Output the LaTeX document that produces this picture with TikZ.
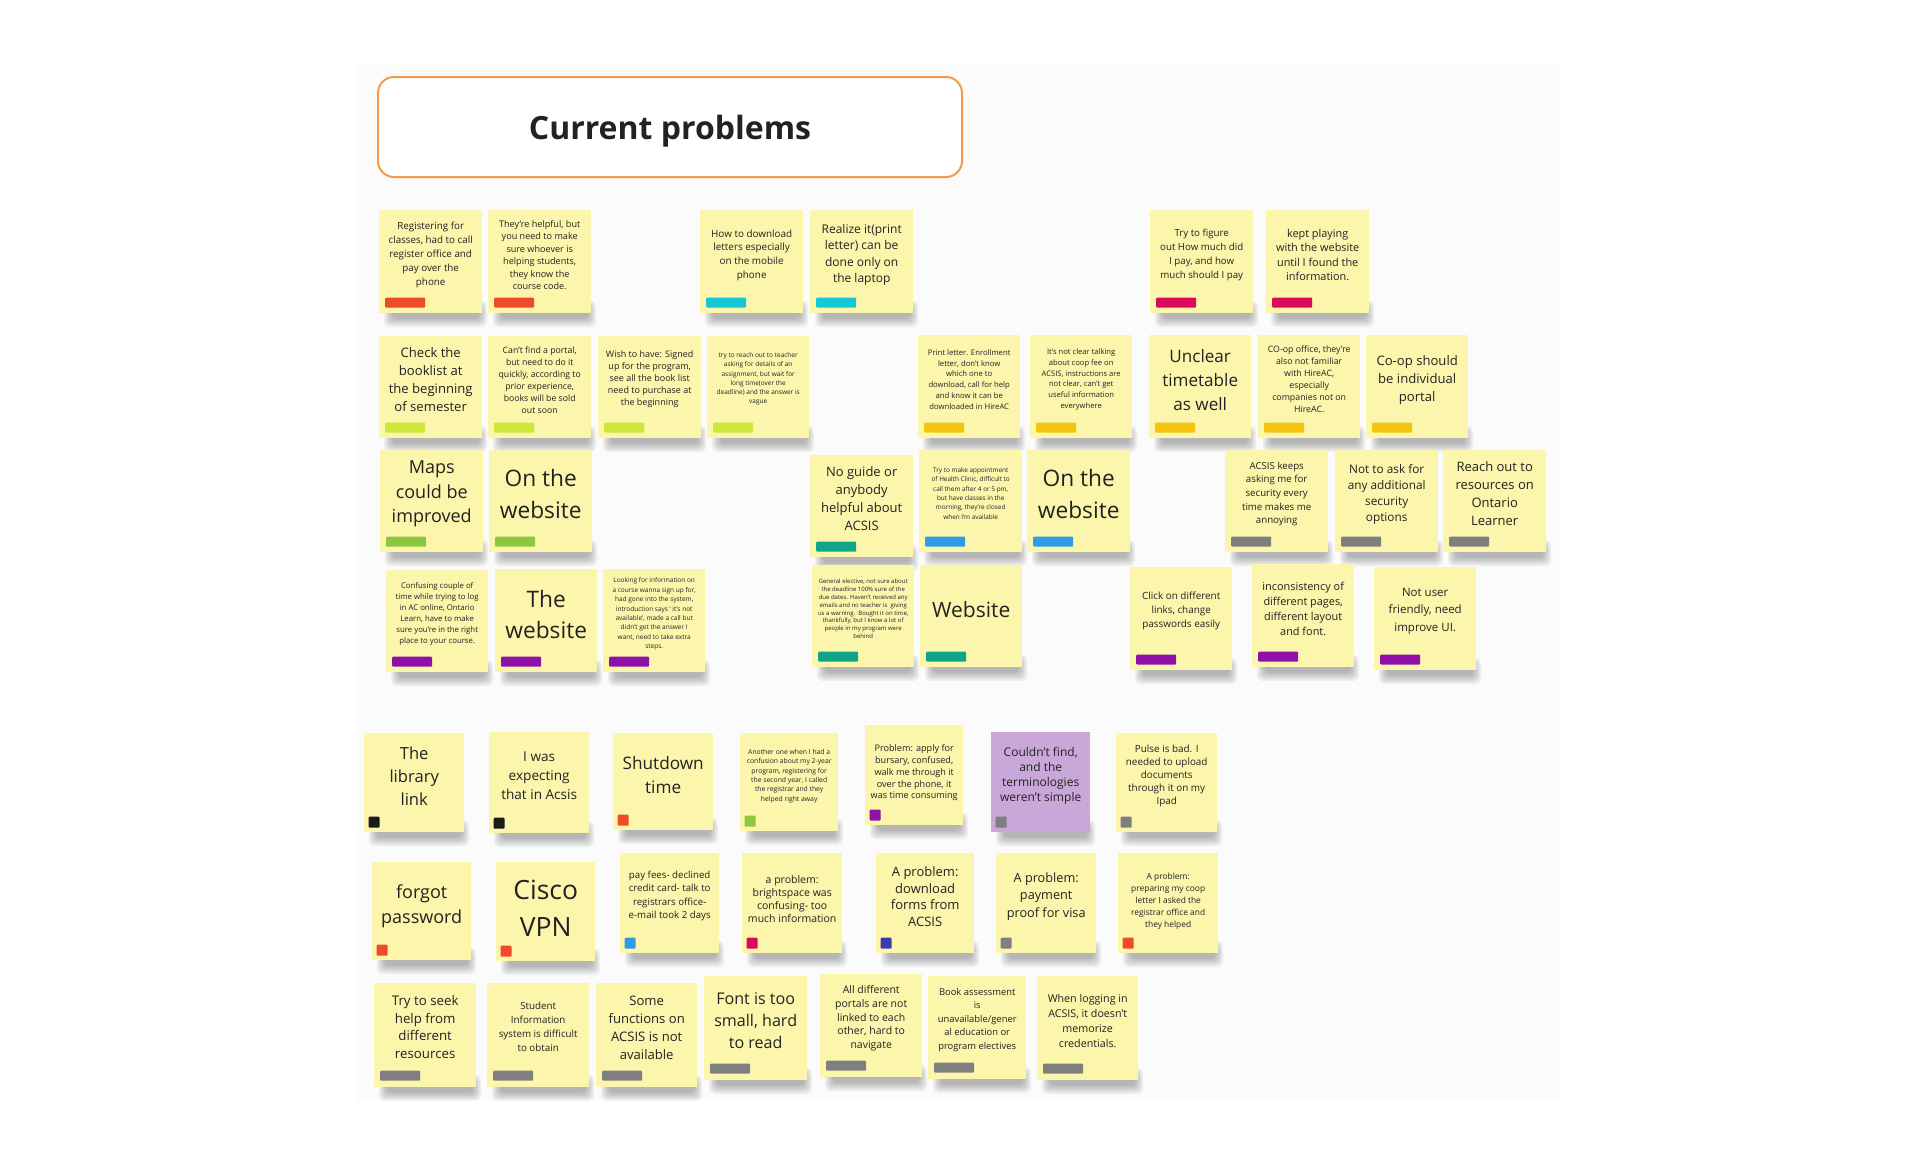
\documentclass[tikz,border=0pt]{standalone}
\usepackage{fontspec}
\setmainfont{Open Sans}
\usetikzlibrary{calc}
\definecolor{notefill}{HTML}{FCF5AC}
\definecolor{purplenote}{HTML}{C9A7D8}
\definecolor{inkc}{HTML}{222222}
\definecolor{boardc}{HTML}{FBFBFB}
\definecolor{titleline}{HTML}{F39A4C}
\definecolor{redtag}{HTML}{EE4B2B}
\definecolor{cyantag}{HTML}{16C7D6}
\definecolor{crimsontag}{HTML}{DA0B5B}
\definecolor{limetag}{HTML}{CDE83A}
\definecolor{goldtag}{HTML}{F6C40F}
\definecolor{greentag}{HTML}{8DC63F}
\definecolor{tealtag}{HTML}{10A58A}
\definecolor{bluetag}{HTML}{2E9BE6}
\definecolor{graytag}{HTML}{7F7F7F}
\definecolor{purpletag}{HTML}{8F0FA8}
\definecolor{blacktag}{HTML}{1A1A1A}
\definecolor{indigotag}{HTML}{3C3CAE}
\tikzset{
  note/.style={anchor=north west, inner sep=0pt, draw=none},
  notetext/.style={align=center, text=inkc, inner sep=0pt},
  tagbar/.style={anchor=south west, minimum width=40pt, minimum height=10pt, inner sep=0pt, rounded corners=1pt, draw=none},
  tagsq/.style={anchor=south west, minimum width=11pt, minimum height=11pt, inner sep=0pt, rounded corners=1pt, draw=none},
  titlebox/.style={anchor=north west, draw=titleline, line width=2pt, rounded corners=16pt, fill=white, minimum width=584pt, minimum height=100pt},
  titletext/.style={text=inkc, inner sep=0pt, font=\fontsize{32}{36}\selectfont\bfseries}
}
\newcommand{\notecol}{notefill}
% #1 text offset, #2 name, #3 left, #4 top, #5 width, #6 height, #7 font size, #8 baselineskip, #9 text
\newcommand{\snote}[9][44]{%
  \foreach \i in {0,...,5}{\fill[black,opacity=0.05,rounded corners=5pt] ({#3+5+\i*1.5},{#4+#6-12+\i*1.2}) rectangle ({#3+#5+5-\i*1.5},{#4+#6+14-\i*1.7});}
  \node[note, fill=\notecol, minimum width=#5pt, minimum height=#6pt] (#2) at (#3,#4) {};
  \node[notetext, font=\fontsize{#7}{#8}\selectfont] (#2t) at ($(#2.north)+(0,#1)$) {#9};
}
\newcommand{\tbar}[3][5.5]{\node[tagbar, fill=#3] (#2g) at ($(#2.south west)+(6,-#1)$) {};}
\newcommand{\tsq}[2]{\node[tagsq, fill=#2] (#1g) at ($(#1.south west)+(4.5,-4.5)$) {};}
\begin{document}
\begin{tikzpicture}[x=1pt,y=-1pt]
\useasboundingbox (0,0) rectangle (1917,1167);
\fill[white] (0,0) rectangle (1917,1167);
\fill[boardc] (357,64) rectangle (1559,1100);
\node[titlebox] (tbox) at (377,76) {};
\node[titletext] (title) at ($(tbox.center)+(0,4)$) {Current problems};

% Row 1
\snote[45]{a1}{379}{210}{103}{103}{9.8}{13.8}{Registering for\\classes, had to call\\register office and\\pay over the\\phone}
\tbar{a1}{redtag}
\snote[45]{a2}{488}{210}{103}{103}{9.1}{12.4}{They're helpful, but\\you need to make\\sure whoever is\\helping students,\\they know the\\course code.}
\tbar{a2}{redtag}
\snote[45]{a3}{700}{210}{103}{103}{9.9}{13.7}{How to download\\letters especially\\on the mobile\\phone}
\tbar{a3}{cyantag}
\snote[45]{a4}{810}{210}{103}{103}{12}{16.3}{Realize it(print\\letter) can be\\done only on\\the laptop}
\tbar{a4}{cyantag}
\snote[45]{a5}{1150}{210}{103}{103}{9.7}{13.7}{Try to figure\\out How much did\\I pay, and how\\much should I pay}
\tbar{a5}{crimsontag}
\snote[45]{a6}{1266}{210}{103}{103}{10.9}{14.4}{kept playing\\with the website\\until I found the\\information.}
\tbar{a6}{crimsontag}

% Row 2
\snote{b1}{379}{336}{103}{102}{13.1}{18}{Check the\\booklist at\\the beginning\\of semester}
\tbar{b1}{limetag}
\snote{b2}{488}{336}{103}{102}{8.7}{12}{Can't find a portal,\\but need to do it\\quickly, according to\\prior experience,\\books will be sold\\out soon}
\tbar{b2}{limetag}
\snote[43.5]{b3}{598}{336}{103}{102}{9.0}{12}{Wish to have: Signed\\up for the program,\\see all the book list\\need to purchase at\\the beginning}
\tbar{b3}{limetag}
\snote[43]{b4}{707}{336}{102}{102}{6.5}{9.3}{try to reach out to teacher\\asking for details of an\\assignment, but wait for\\long time(over the\\deadline) and the answer is\\vague}
\tbar{b4}{limetag}
\snote[44.5]{b5}{918}{335}{102}{103}{7.7}{10.8}{Print letter. Enrollment\\letter, don't know\\which one to\\download, call for help\\and know it can be\\downloaded in HireAC}
\tbar{b5}{goldtag}
\snote[44.5]{b6}{1030}{335}{102}{103}{7.6}{10.9}{It's not clear talking\\about coop fee on\\ACSIS, instructions are\\not clear, can't get\\useful information\\everywhere}
\tbar{b6}{goldtag}
\snote[45]{b7}{1149}{335}{102}{103}{17.1}{24}{Unclear\\timetable\\as well}
\tbar{b7}{goldtag}
\snote{b8}{1258}{335}{102}{103}{8.8}{12}{CO-op office, they're\\also not familiar\\with HireAC,\\especially\\companies not on\\HireAC.}
\tbar{b8}{goldtag}
\snote[45]{b9}{1366}{335}{102}{103}{13.1}{18}{Co-op should\\be individual\\portal}
\tbar{b9}{goldtag}

% Row 3
\snote{c1}{380}{450}{103}{102}{18}{24.5}{Maps\\could be\\improved}
\tbar{c1}{greentag}
\snote{c2}{489}{450}{103}{102}{22.7}{31.7}{On the\\website}
\tbar{c2}{greentag}
\snote{c3}{810}{455}{103}{102}{13}{18}{No guide or\\anybody\\helpful about\\ACSIS}
\tbar{c3}{tealtag}
\snote[43.5]{c4}{919}{450}{103}{102}{6.4}{9.3}{Try to make appointment\\of Health Clinic, difficult to\\call them after 4 or 5 pm,\\but have classes in the\\morning, they're closed\\when I'm available}
\tbar{c4}{bluetag}
\snote{c5}{1027}{450}{103}{102}{22.7}{31.7}{On the\\website}
\tbar{c5}{bluetag}
\snote{c6}{1225}{450}{103}{102}{9.7}{13.7}{ACSIS keeps\\asking me for\\security every\\time makes me\\annoying}
\tbar{c6}{graytag}
\snote{c7}{1335}{450}{103}{102}{11.8}{16}{Not to ask for\\any additional\\security\\options}
\tbar{c7}{graytag}
\snote{c8}{1443}{450}{103}{102}{13}{18}{Reach out to\\resources on\\Ontario\\Learner}
\tbar{c8}{graytag}

% Row 4
\snote{d1}{386}{570}{102}{102}{7.8}{11}{Confusing couple of\\time while trying to log\\in AC online, Ontario\\Learn, have to make\\sure you're in the right\\place to your course.}
\tbar{d1}{purpletag}
\snote[45]{d2}{495}{569}{102}{103}{22.7}{31}{The\\website}
\tbar{d2}{purpletag}
\snote[45]{d3}{603}{569}{102}{103}{6.5}{9.4}{Looking for information on\\a course wanna sign up for,\\had gone into the system,\\introduction says ' it's not\\available', made a call but\\didn't get the answer I\\want, need to take extra\\steps.}
\tbar{d3}{purpletag}
\snote{d4}{812}{565}{102}{102}{6.0}{7.8}{General elective, not sure about\\the deadline 100\% sure of the\\due dates. Haven't received any\\emails and no teacher is\ \ giving\\us a warning.\ \ Bought it on time,\\thankfully, but I know a lot of\\people in my program were\\behind}
\tbar{d4}{tealtag}
\snote[45]{d5}{920}{565}{102}{102}{21}{28}{Website}
\tbar{d5}{tealtag}
\snote{d6}{1130}{567}{102}{103}{9.9}{14.2}{Click on different\\links, change\\passwords easily}
\tbar{d6}{purpletag}
\snote[45]{d7}{1252}{564}{102}{103}{10.9}{15.2}{inconsistency of\\different pages,\\different layout\\and font.}
\tbar{d7}{purpletag}
\snote{d8}{1374}{567}{102}{103}{11.5}{17.5}{Not user\\friendly, need\\improve UI.}
\tbar{d8}{purpletag}

% Row 5
\snote[43]{e1}{364}{733}{100}{99}{16.6}{23.3}{The\\library\\link}
\tsq{e1}{blacktag}
\snote{e2}{489}{732}{100}{101}{13.6}{19.2}{I was\\expecting\\that in Acsis}
\tsq{e2}{blacktag}
\snote[42]{e3}{613}{733}{100}{97}{17.2}{24}{Shutdown\\time}
\tsq{e3}{redtag}
\snote[43]{e4}{740}{733}{98}{98}{6.8}{9.3}{Another one when I had a\\confusion about my 2-year\\program, registering for\\the second year, I called\\the registrar and they\\helped right away}
\tsq{e4}{greentag}
\snote[48]{e5}{865}{725}{98}{100}{9.1}{11.7}{Problem: apply for\\bursary, confused,\\walk me through it\\over the phone, it\\was time consuming}
\tsq{e5}{purpletag}
\renewcommand{\notecol}{purplenote}
\snote{e6}{991}{732}{99}{100}{12}{15}{Couldn't find,\\and the\\terminologies\\weren't simple}
\renewcommand{\notecol}{notefill}
\tsq{e6}{graytag}
\snote[42.5]{e7}{1116}{733}{101}{99}{9.9}{13}{Pulse is bad. I\\needed to upload\\documents\\through it on my\\Ipad}
\tsq{e7}{graytag}

% Row 6
\snote{f1}{372}{862}{99}{98}{18}{25}{forgot\\password}
\tsq{f1}{redtag}
\snote[46]{f2}{496}{862}{99}{99}{26.5}{36.7}{Cisco\\VPN}
\tsq{f2}{redtag}
\snote[43]{f3}{620}{853}{99}{100}{9.7}{13.3}{pay fees- declined\\credit card- talk to\\registrars office-\\e-mail took 2 days}
\tsq{f3}{bluetag}
\snote[46]{f4}{742}{853}{100}{100}{10.5}{12.8}{a problem:\\brightspace was\\confusing- too\\much information}
\tsq{f4}{crimsontag}
\snote[43.5]{f5}{876}{853}{98}{100}{13}{16.7}{A problem:\\download\\forms from\\ACSIS}
\tsq{f5}{indigotag}
\snote[43.5]{f6}{996}{853}{100}{100}{12.7}{17.3}{A problem:\\payment\\proof for visa}
\tsq{f6}{graytag}
\snote[48]{f7}{1118}{853}{100}{100}{8.4}{12}{A problem:\\preparing my coop\\letter I asked the\\registrar office and\\they helped}
\tsq{f7}{redtag}

% Row 7
\snote{g1}{374}{983}{102}{104}{13.3}{17.9}{Try to seek\\help from\\different\\resources}
\tbar[6.5]{g1}{graytag}
\snote{g2}{487}{983}{102}{104}{9.8}{13.9}{Student\\Information\\system is difficult\\to obtain}
\tbar[6.5]{g2}{graytag}
\snote[44.5]{g3}{596}{983}{101}{104}{13.1}{18}{Some\\functions on\\ACSIS is not\\available}
\tbar[6.5]{g3}{graytag}
\snote[45]{g4}{704}{976}{103}{104}{16.1}{22}{Font is too\\small, hard\\to read}
\tbar[6.5]{g4}{graytag}
\snote[44.5]{g5}{820}{974}{102}{103}{10.5}{13.7}{All different\\portals are not\\linked to each\\other, hard to\\navigate}
\tbar[6.5]{g5}{graytag}
\snote{g6}{928}{976}{98}{103}{9.4}{13.5}{Book assessment\\is\\unavailable/gener\\al education or\\program electives}
\tbar[6.5]{g6}{graytag}
\snote[45]{g7}{1037}{976}{101}{104}{10.7}{15}{When logging in\\ACSIS, it doesn't\\memorize\\credentials.}
\tbar[6.5]{g7}{graytag}
\end{tikzpicture}
\end{document}
